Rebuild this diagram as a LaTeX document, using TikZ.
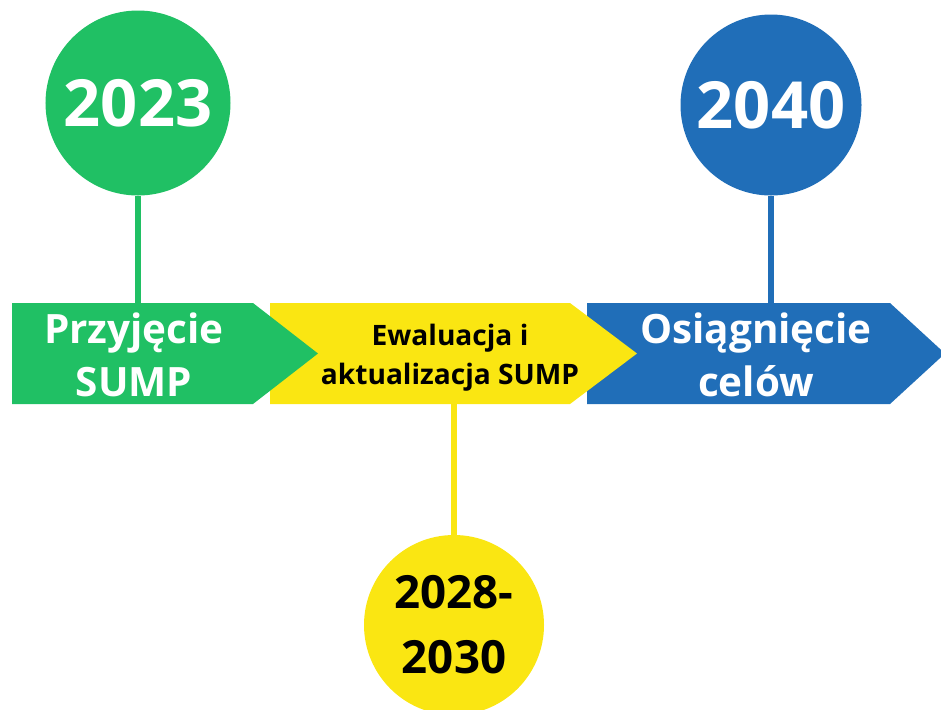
\documentclass[tikz,border=0pt]{standalone}
\usepackage{fontspec}
\setmainfont{Open Sans}
\usetikzlibrary{positioning}

\definecolor{sumpgreen}{RGB}{32,192,100}
\definecolor{sumpyellow}{RGB}{250,230,18}
\definecolor{sumpblue}{RGB}{32,110,184}

\begin{document}
\begin{tikzpicture}[
    x=0.2mm, y=-0.2mm,
    year/.style={circle, inner sep=0pt, minimum size=37mm, align=center,
      font=\bfseries\fontsize{37}{40}\selectfont, text=white},
    stage/.style={align=center, inner sep=0pt,
      font=\bfseries\fontsize{23}{30}\selectfont, text=white},
    stem/.style={line width=1.2mm},
  ]
  \useasboundingbox (0,0) rectangle (941,709);

  % Arrow bands, last one at the back.
  \fill[sumpblue] (587,303) -- (890,303) -- (945,353.5) -- (890,404) -- (587,404) -- cycle;
  \fill[sumpyellow] (270,303) -- (570,303) -- (637,353.5) -- (570,404) -- (270,404) -- cycle;
  \fill[sumpgreen] (12,303) -- (253,303) -- (318,353.5) -- (253,404) -- (12,404) -- cycle;
  \coordinate (gtop) at (138,303);
  \coordinate (ybot) at (454,404);
  \coordinate (btop) at (771,303);

  % Stage labels.
  \node[stage] (przyjecie) at (134,355) {Przyjęcie\\SUMP};
  \node[stage, text=black, font=\bfseries\fontsize{16}{22}\selectfont] (ewaluacja) at (450,358)
    {Ewaluacja i\\aktualizacja SUMP};
  \node[stage] (osiagniecie) at (756,355) {Osiągnięcie\\celów};

  % Year circles and their stems.
  \node[year, fill=sumpgreen] (y2023) at (138,103) {2023};
  \node[year, fill=sumpblue, minimum size=36.2mm] (y2040) at (771,105) {2040};
  \node[year, fill=sumpyellow, minimum size=36mm, text=black,
    font=\bfseries\fontsize{26}{37}\selectfont] (y2028) at (454,625) {2028-\\2030};
  \draw[stem, sumpgreen] (y2023) -- (gtop);
  \draw[stem, sumpblue] (y2040) -- (btop);
  \draw[stem, sumpyellow] (y2028) -- (ybot);
\end{tikzpicture}
\end{document}
